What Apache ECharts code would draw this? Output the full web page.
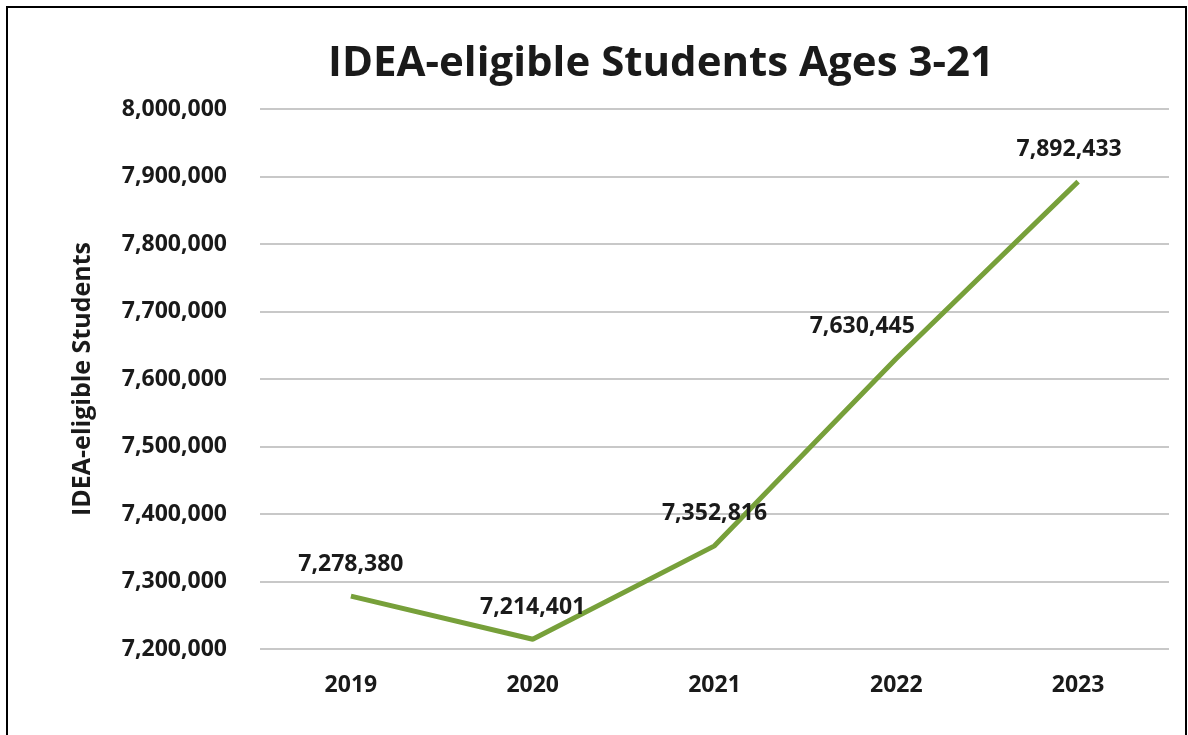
<!DOCTYPE html>
<html><head><meta charset="utf-8">
<script src="https://cdn.jsdelivr.net/npm/echarts@6/dist/echarts.min.js"></script>
<style>html,body{margin:0;padding:0;background:#fff}#c{width:1188px;height:735px}</style>
</head><body><div id="c"></div>
<script>
const categories = ['2019','2020','2021','2022','2023'];
const students = [7278380, 7214401, 7352816, 7630445, 7892433];
const yTicks = [7200000, 8000000, 100000]; // min, max, interval

const chart = echarts.init(document.getElementById('c'), null, {renderer:'canvas'});
const font = 'Open Sans';
const labelOffsets = [[0,0],[0,0],[0,0],[-34,0],[-9,0]];
chart.setOption({
  animation:false,
  backgroundColor:'#fff',
  title:{text:'IDEA-eligible Students Ages 3-21', left:656, top:38, textAlign:'center',
    textStyle:{fontFamily:font, fontWeight:'bold', fontSize:42, color:'#1a1a1a'}},
  grid:{left:260, right:19, top:109, bottom:86, containLabel:false},
  xAxis:{type:'category', data:categories, boundaryGap:true,
    axisLine:{show:false}, axisTick:{show:false},
    axisLabel:{margin:25, fontFamily:font, fontWeight:'bold', fontSize:23, color:'#1a1a1a'}},
  yAxis:{type:'value', min:yTicks[0], max:yTicks[1], interval:yTicks[2],
    name:'IDEA-eligible Students', nameLocation:'middle', nameGap:165, nameRotate:90,
    nameTextStyle:{fontFamily:font, fontWeight:'bold', fontSize:25, color:'#1a1a1a'},
    axisLine:{show:false}, axisTick:{show:false},
    splitLine:{lineStyle:{color:'#c8c8c8', width:2}},
    axisLabel:{margin:33, fontFamily:font, fontWeight:'bold', fontSize:23, color:'#1a1a1a',
      formatter:v=>v.toLocaleString('en-US')}},
  series:[{type:'line', data:students.map((v,i)=>({value:v,
      label:{offset:labelOffsets[i]}})),
    symbol:'circle', symbolSize:1, showSymbol:true, itemStyle:{color:'rgba(0,0,0,0)'},
    lineStyle:{color:'#77a03a', width:5},
    label:{show:true, position:'top', distance:20, fontFamily:font, fontWeight:'bold', fontSize:23, color:'#1a1a1a',
      formatter:p=>p.value.toLocaleString('en-US')}}],
  graphic:[{type:'polyline', shape:{points:[[7,735],[7,7],[1186,7],[1186,735]]},
    style:{stroke:'#000', lineWidth:2, fill:null}}]
});
</script></body></html>
